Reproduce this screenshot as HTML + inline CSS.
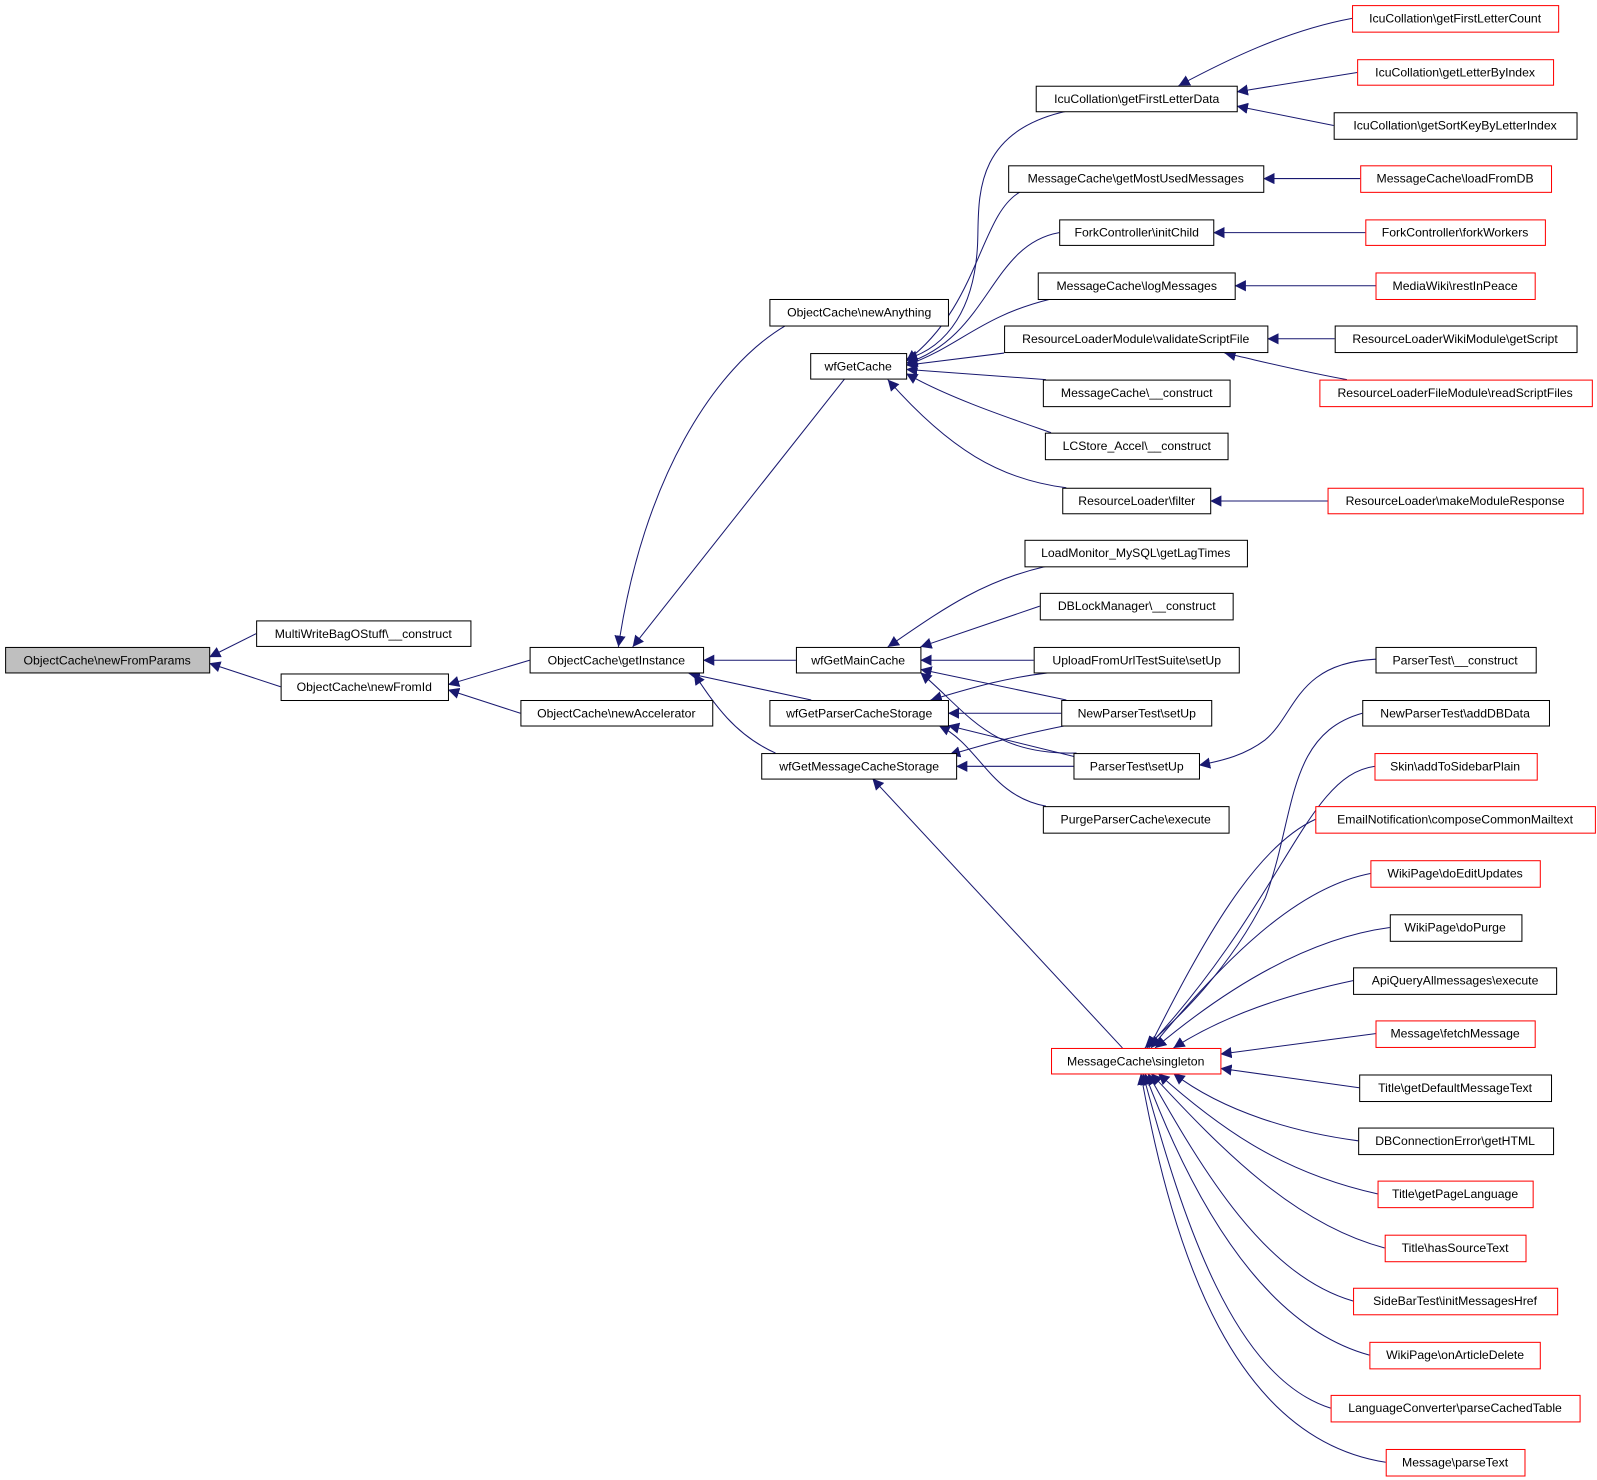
<!DOCTYPE html>
<html><head><meta charset="utf-8"><style>
body{margin:0;background:#fff;width:1597px;height:1480px;overflow:hidden}
svg{position:absolute;left:0;top:0}
text{font-family:"Liberation Sans",sans-serif;font-size:12px;text-anchor:middle}
</style></head><body>
<svg width="1597" height="1480" viewBox="0 0 1597 1480">
<defs><marker id="a" viewBox="0 0 10 10" refX="10" refY="5" markerWidth="11" markerHeight="11" markerUnits="userSpaceOnUse" orient="auto"><path d="M0,0 L10,5 L0,10 z" fill="#191970"/></marker></defs>
<g transform="scale(1.0204)">
<g fill="none" stroke="#191970" stroke-width="1" marker-end="url(#a)">
<path d="M251,621 L205,644"/>
<path d="M275,673 L205,650"/>
<path d="M519,647 L439,671"/>
<path d="M510,699 L439,676"/>
<path d="M770,319 C700,360 630,470 606,634"/>
<path d="M828,371 L620,634"/>
<path d="M780,647 L689,647"/>
<path d="M795,686 L675,660"/>
<path d="M760,738 C720,720 700,690 680,660"/>
<path d="M1045,109 C950,130 960,200 958,240 C955,300 930,340 888,352"/>
<path d="M1000,188 C960,210 960,300 888,354"/>
<path d="M1038,228 C970,240 970,330 888,356"/>
<path d="M1030,293 C960,310 940,340 888,358"/>
<path d="M984,346 L888,358"/>
<path d="M1025,372 L888,362"/>
<path d="M1030,424 C990,410 930,390 888,366"/>
<path d="M1045,478 C980,470 930,440 870,372"/>
<path d="M1025,555 C960,570 920,600 870,634"/>
<path d="M1019,594 L902,634"/>
<path d="M1013,647 L902,647"/>
<path d="M1045,686 L902,656"/>
<path d="M1055,738 C970,740 950,700 902,659"/>
<path d="M1030,659 C980,665 950,675 912,686"/>
<path d="M1040,699 L929,699"/>
<path d="M1055,742 L929,711"/>
<path d="M1025,790 C970,780 960,730 920,711"/>
<path d="M1045,711 C1000,720 970,728 930,740"/>
<path d="M1052,751 L937,751"/>
<path d="M1100,1027 L855,763"/>
<path d="M1325,18 C1260,30 1200,60 1155,84"/>
<path d="M1330,71 L1212,90"/>
<path d="M1307,123 L1212,104"/>
<path d="M1333,175 L1238,175"/>
<path d="M1338,228 L1189,228"/>
<path d="M1348,280 L1210,280"/>
<path d="M1308,332 L1242,332"/>
<path d="M1320,372 C1280,365 1240,355 1200,346"/>
<path d="M1301,491 L1186,491"/>
<path d="M1348,646 C1270,650 1270,700 1240,725 C1220,740 1200,745 1175,750"/>
<path d="M1335,699 C1260,720 1270,800 1240,880 C1200,960 1140,1010 1122,1027"/>
<path d="M1347,751 C1280,760 1260,880 1124,1027"/>
<path d="M1289,803 C1230,830 1180,920 1126,1027"/>
<path d="M1343,856 C1270,870 1200,940 1128,1027"/>
<path d="M1362,909 C1280,920 1200,970 1132,1027"/>
<path d="M1326,961 C1260,975 1200,995 1150,1027"/>
<path d="M1348,1013 L1196,1033"/>
<path d="M1332,1066 L1196,1047"/>
<path d="M1331,1118 C1270,1110 1200,1090 1150,1052"/>
<path d="M1350,1170 C1260,1150 1200,1110 1135,1052"/>
<path d="M1357,1223 C1270,1200 1200,1130 1128,1052"/>
<path d="M1326,1275 C1240,1250 1180,1150 1125,1052"/>
<path d="M1342,1328 C1240,1300 1170,1180 1122,1052"/>
<path d="M1304,1380 C1210,1350 1160,1200 1120,1052"/>
<path d="M1358,1433 C1210,1410 1150,1230 1118,1052"/>
</g>
<g stroke-width="1" fill="#fff">
<rect x="5.5" y="634.5" width="200" height="25" fill="#bfbfbf" stroke="#000"/>
<g stroke="#000">
<rect x="251.5" y="608.5" width="210" height="25"/>
<rect x="275.5" y="660.5" width="164" height="26"/>
<rect x="519.5" y="634.5" width="170" height="25"/>
<rect x="510.5" y="686.5" width="188" height="25"/>
<rect x="754.5" y="293.5" width="175" height="26"/>
<rect x="794.5" y="346.5" width="94" height="25"/>
<rect x="780.5" y="634.5" width="122" height="25"/>
<rect x="754.5" y="686.5" width="175" height="25"/>
<rect x="746.5" y="738.5" width="191" height="25"/>
<rect x="1015.5" y="84.5" width="197" height="25"/>
<rect x="988.5" y="162.5" width="250" height="26"/>
<rect x="1038.5" y="215.5" width="151" height="25"/>
<rect x="1017.5" y="267.5" width="193" height="26"/>
<rect x="984.5" y="319.5" width="258" height="26"/>
<rect x="1022.5" y="372.5" width="183" height="26"/>
<rect x="1024.5" y="424.5" width="179" height="26"/>
<rect x="1041.5" y="478.5" width="145" height="25"/>
<rect x="1004.5" y="529.5" width="218" height="26"/>
<rect x="1019.5" y="581.5" width="189" height="26"/>
<rect x="1013.5" y="634.5" width="201" height="25"/>
<rect x="1040.5" y="686.5" width="147" height="25"/>
<rect x="1052.5" y="738.5" width="123" height="25"/>
<rect x="1022.5" y="790.5" width="182" height="26"/>
<rect x="1307.5" y="110.5" width="238" height="26"/>
<rect x="1308.5" y="319.5" width="237" height="26"/>
<rect x="1348.5" y="634.5" width="157" height="25"/>
<rect x="1335.5" y="686.5" width="183" height="25"/>
<rect x="1362.5" y="896.5" width="129" height="26"/>
<rect x="1326.5" y="948.5" width="199" height="26"/>
<rect x="1332.5" y="1053.5" width="188" height="26"/>
<rect x="1331.5" y="1105.5" width="191" height="26"/>
</g>
<g stroke="#f00">
<rect x="1030.5" y="1027.5" width="166" height="25"/>
<rect x="1325.5" y="5.5" width="202" height="26"/>
<rect x="1330.5" y="58.5" width="192" height="25"/>
<rect x="1333.5" y="162.5" width="187" height="26"/>
<rect x="1338.5" y="215.5" width="176" height="25"/>
<rect x="1348.5" y="267.5" width="156" height="26"/>
<rect x="1293.5" y="372.5" width="267" height="26"/>
<rect x="1301.5" y="478.5" width="250" height="25"/>
<rect x="1347.5" y="738.5" width="159" height="26"/>
<rect x="1289.5" y="790.5" width="274" height="26"/>
<rect x="1343.5" y="843.5" width="166" height="26"/>
<rect x="1348.5" y="1000.5" width="156" height="26"/>
<rect x="1350.5" y="1157.5" width="152" height="26"/>
<rect x="1357.5" y="1210.5" width="138" height="26"/>
<rect x="1326.5" y="1262.5" width="200" height="26"/>
<rect x="1342.5" y="1315.5" width="167" height="26"/>
<rect x="1304.5" y="1367.5" width="244" height="26"/>
<rect x="1358.5" y="1420.5" width="136" height="26"/>
</g></g>
<g fill="#000">
<text x="105" y="651">ObjectCache\newFromParams</text>
<text x="356" y="625">MultiWriteBagOStuff\__construct</text>
<text x="357" y="677">ObjectCache\newFromId</text>
<text x="604" y="651">ObjectCache\getInstance</text>
<text x="604" y="703">ObjectCache\newAccelerator</text>
<text x="842" y="310">ObjectCache\newAnything</text>
<text x="841" y="363">wfGetCache</text>
<text x="841" y="651">wfGetMainCache</text>
<text x="842" y="703">wfGetParserCacheStorage</text>
<text x="842" y="755">wfGetMessageCacheStorage</text>
<text x="1113" y="1044">MessageCache\singleton</text>
<text x="1114" y="101">IcuCollation\getFirstLetterData</text>
<text x="1113" y="179">MessageCache\getMostUsedMessages</text>
<text x="1114" y="232">ForkController\initChild</text>
<text x="1114" y="284">MessageCache\logMessages</text>
<text x="1113" y="336">ResourceLoaderModule\validateScriptFile</text>
<text x="1114" y="389">MessageCache\__construct</text>
<text x="1114" y="441">LCStore_Accel\__construct</text>
<text x="1114" y="495">ResourceLoader\filter</text>
<text x="1113" y="546">LoadMonitor_MySQL\getLagTimes</text>
<text x="1114" y="598">DBLockManager\__construct</text>
<text x="1114" y="651">UploadFromUrlTestSuite\setUp</text>
<text x="1114" y="703">NewParserTest\setUp</text>
<text x="1114" y="755">ParserTest\setUp</text>
<text x="1113" y="807">PurgeParserCache\execute</text>
<text x="1426" y="22">IcuCollation\getFirstLetterCount</text>
<text x="1426" y="75">IcuCollation\getLetterByIndex</text>
<text x="1426" y="127">IcuCollation\getSortKeyByLetterIndex</text>
<text x="1426" y="179">MessageCache\loadFromDB</text>
<text x="1426" y="232">ForkController\forkWorkers</text>
<text x="1426" y="284">MediaWiki\restInPeace</text>
<text x="1426" y="336">ResourceLoaderWikiModule\getScript</text>
<text x="1426" y="389">ResourceLoaderFileModule\readScriptFiles</text>
<text x="1426" y="495">ResourceLoader\makeModuleResponse</text>
<text x="1426" y="651">ParserTest\__construct</text>
<text x="1426" y="703">NewParserTest\addDBData</text>
<text x="1426" y="755">Skin\addToSidebarPlain</text>
<text x="1426" y="807">EmailNotification\composeCommonMailtext</text>
<text x="1426" y="860">WikiPage\doEditUpdates</text>
<text x="1426" y="913">WikiPage\doPurge</text>
<text x="1426" y="965">ApiQueryAllmessages\execute</text>
<text x="1426" y="1017">Message\fetchMessage</text>
<text x="1426" y="1070">Title\getDefaultMessageText</text>
<text x="1426" y="1122">DBConnectionError\getHTML</text>
<text x="1426" y="1174">Title\getPageLanguage</text>
<text x="1426" y="1227">Title\hasSourceText</text>
<text x="1426" y="1279">SideBarTest\initMessagesHref</text>
<text x="1426" y="1332">WikiPage\onArticleDelete</text>
<text x="1426" y="1384">LanguageConverter\parseCachedTable</text>
<text x="1426" y="1437">Message\parseText</text>
</g>
</g>
</svg>
</body></html>
